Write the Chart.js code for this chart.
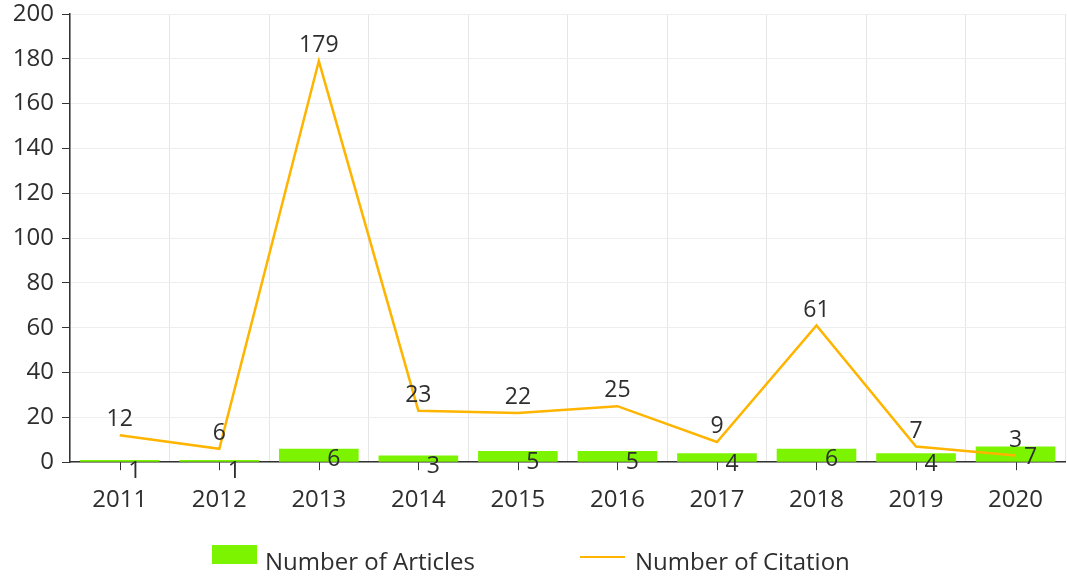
<!DOCTYPE html>
<html>
<head>
<meta charset="utf-8">
<script src="https://cdn.jsdelivr.net/npm/chart.js@4"></script>
<style>
  body { margin: 0; background: #fff; }
  #wrap { position: relative; width: 1067px; height: 577px; }
  .legend { position: absolute; font-family: "Open Sans", sans-serif; font-size: 24px; color: #2e2e2e; white-space: nowrap; }
</style>
</head>
<body>
<div id="wrap">
  <canvas id="chart" width="1067" height="577"></canvas>
  <div class="legend" style="left:212px; top:545px; width:45px; height:19px; background:#7cf400;"></div>
  <div class="legend" style="left:265px; top:546px; line-height:30px;">Number of Articles</div>
  <div class="legend" style="left:580px; top:556px; width:45px; height:2px; background:#ffb400;"></div>
  <div class="legend" style="left:635px; top:546px; line-height:30px;">Number of Citation</div>
</div>
<script>
// data
const years = ['2011', '2012', '2013', '2014', '2015', '2016', '2017', '2018', '2019', '2020'];
const articles = [1, 1, 6, 3, 5, 5, 4, 6, 4, 7];
const citations = [12, 6, 179, 23, 22, 25, 9, 61, 7, 3];

const textColor = '#2e2e2e';
const fontFamily = '"Open Sans", sans-serif';

// draws the value labels and the small x ticks at category centres
const valueLabels = {
    id: 'valueLabels',
    afterDatasetsDraw(chart) {
        const ctx = chart.ctx;
        const xScale = chart.scales.x;
        const bottom = chart.chartArea.bottom;
        ctx.save();

        ctx.strokeStyle = '#333';
        ctx.lineWidth = 1;
        years.forEach((y, i) => {
            const px = Math.round(xScale.getPixelForValue(i)) + 0.5;
            ctx.beginPath();
            ctx.moveTo(px, bottom);
            ctx.lineTo(px, bottom + 8);
            ctx.stroke();
        });

        ctx.fillStyle = textColor;
        ctx.font = '23px ' + fontFamily;
        ctx.textAlign = 'center';

        ctx.textBaseline = 'middle';
        chart.getDatasetMeta(0).data.forEach((bar, i) => {
            ctx.fillText(articles[i], bar.x + 15, bar.y + 11);
        });

        ctx.textBaseline = 'bottom';
        chart.getDatasetMeta(1).data.forEach((pt, i) => {
            ctx.fillText(citations[i], pt.x, pt.y - 4);
        });
        ctx.restore();
    }
};

new Chart(document.getElementById('chart'), {
    type: 'bar',
    data: {
        labels: years,
        datasets: [
            {
                label: 'Number of Articles',
                data: articles,
                backgroundColor: '#7cf400',
                barPercentage: 0.8,
                categoryPercentage: 1,
                order: 1
            },
            {
                type: 'line',
                label: 'Number of Citation',
                data: citations,
                borderColor: '#ffb400',
                borderWidth: 2.5,
                pointRadius: 0,
                fill: false,
                tension: 0,
                order: 0
            }
        ]
    },
    options: {
        responsive: false,
        animation: false,
        layout: { padding: { top: 0, right: 0, bottom: 38, left: 0 } },
        plugins: {
            legend: { display: false },
            tooltip: { enabled: false }
        },
        scales: {
            x: {
                grid: { color: '#e6e6e6', drawTicks: false, offset: true },
                border: { color: '#333', width: 1.5 },
                ticks: { color: textColor, font: { family: fontFamily, size: 24 }, padding: 24 }
            },
            y: {
                min: 0,
                max: 200,
                ticks: { stepSize: 20, color: textColor, font: { family: fontFamily, size: 24, lineHeight: 0.5 }, padding: 8 },
                grid: { color: '#eeeeee', tickLength: 8, tickColor: '#333' },
                border: { color: '#333', width: 1.5 },
                afterFit(scale) { scale.width = 70; }
            }
        }
    },
    plugins: [valueLabels]
});
</script>
</body>
</html>
